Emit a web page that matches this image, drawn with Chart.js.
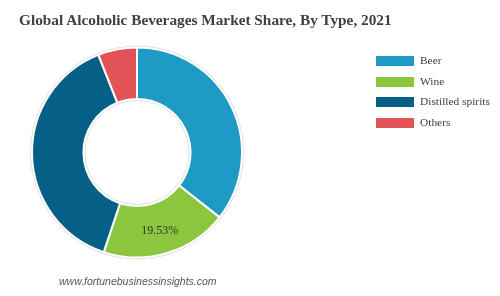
<!DOCTYPE html>
<html><head><meta charset="utf-8">
<script src="https://cdn.jsdelivr.net/npm/chart.js@4/dist/chart.umd.min.js"></script>
<style>
html,body{margin:0;padding:0;background:#fff;width:500px;height:296px;overflow:hidden;}
#wrap{position:relative;width:500px;height:296px;}
#c{position:absolute;left:0;top:0;}
#title{position:absolute;left:19px;top:11px;font:bold 15.3px "Liberation Serif","Times New Roman",serif;color:#404040;white-space:nowrap;}
#legend{position:absolute;left:376px;top:56px;font:11.4px "Liberation Serif","Times New Roman",serif;color:#404040;}
.li{position:relative;height:20.7px;}
.sw{position:absolute;left:0;top:0;width:38px;height:10px;}
.lt{position:absolute;left:44px;top:-2px;white-space:nowrap;}
#src{position:absolute;left:59px;top:275px;font:italic 10.5px "Liberation Sans",Arial,sans-serif;color:#555;white-space:nowrap;}
</style></head>
<body><div id="wrap">
<canvas id="c" width="500" height="296"></canvas>
<div id="title">Global Alcoholic Beverages Market Share, By Type, 2021</div>
<div id="legend"></div>
<div id="src">www.fortunebusinessinsights.com</div>
</div>
<script>
const categories = ["Beer", "Wine", "Distilled spirits", "Others"];
const shares = [35.6, 19.53, 38.87, 6.0];
const labelShown = [false, true, false, false];
const colors = ["#1d9bc4", "#8cc63f", "#065f86", "#e15356"];

const leg = document.getElementById('legend');
categories.forEach((c, i) => {
  const d = document.createElement('div'); d.className = 'li';
  d.innerHTML = '<div class="sw" style="background:' + colors[i] + '"></div><div class="lt">' + c + '</div>';
  leg.appendChild(d);
});

const extras = {
  id: 'extras',
  afterDatasetsDraw(chart) {
    const ctx = chart.ctx;
    const meta = chart.getDatasetMeta(0);
    const a0 = meta.data[0];
    ctx.save();
    ctx.strokeStyle = 'rgba(0,0,0,0.12)';
    ctx.lineWidth = 1;
    ctx.beginPath(); ctx.arc(a0.x, a0.y, a0.outerRadius + 1.5, 0, Math.PI * 2); ctx.stroke();
    ctx.beginPath(); ctx.arc(a0.x, a0.y, a0.innerRadius - 1.5, 0, Math.PI * 2); ctx.stroke();
    ctx.font = '12px "Liberation Serif","Times New Roman",serif';
    ctx.fillStyle = '#333';
    ctx.textAlign = 'center'; ctx.textBaseline = 'middle';
    meta.data.forEach((arc, i) => {
      if (!labelShown[i]) return;
      const p = arc.tooltipPosition();
      ctx.fillText(shares[i].toFixed(2) + '%', p.x, p.y + 2);
    });
    ctx.restore();
  }
};

new Chart(document.getElementById('c'), {
  type: 'doughnut',
  data: { labels: categories, datasets: [{ data: shares, backgroundColor: colors, borderColor: '#fff', borderWidth: 2 }] },
  options: {
    responsive: false, animation: false, cutout: '51%',
    layout: { padding: { left: 31, right: 257, top: 46.5, bottom: 37.5 } },
    plugins: { legend: { display: false }, tooltip: { enabled: false } }
  },
  plugins: [extras]
});
</script>
</body></html>
